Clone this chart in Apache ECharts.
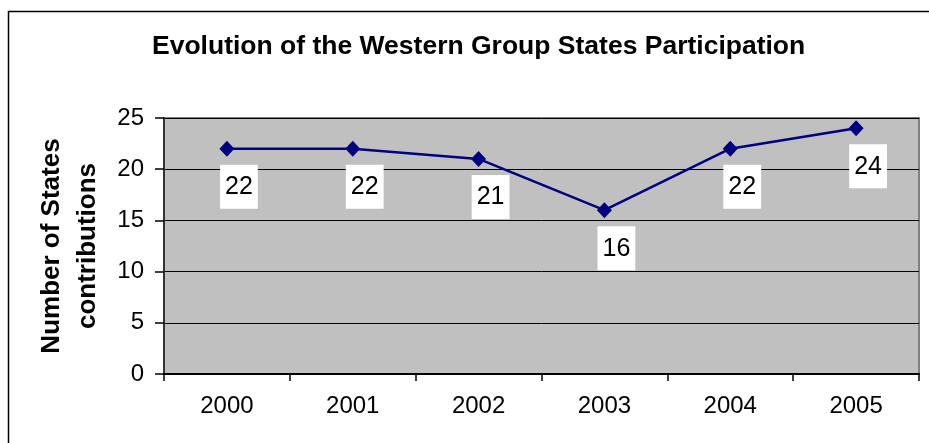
<!DOCTYPE html>
<html>
<head>
<meta charset="utf-8">
<script src="https://cdn.jsdelivr.net/npm/echarts@6/dist/echarts.min.js"></script>
<style>
html,body{margin:0;padding:0;background:#fff;}
#chart{width:929px;height:443px;}
</style>
</head>
<body>
<div id="chart"></div>
<script>
const titleText = "Evolution of the Western Group States Participation";
const yAxisTitle = "Number of States\ncontributions";
const years = ["2000", "2001", "2002", "2003", "2004", "2005"];
const participation = [22, 22, 21, 16, 22, 24];

const chart = echarts.init(document.getElementById('chart'), null, {renderer: 'canvas'});
const font = "'Liberation Sans', Arial, sans-serif";
chart.setOption({
  animation: false,
  backgroundColor: '#ffffff',
  title: {
    text: titleText,
    left: 147,
    top: 28,
    textStyle: {fontFamily: font, fontSize: 26.5, fontWeight: 'bold', color: '#000'}
  },
  graphic: [{
    type: 'rect',
    shape: {x: 8.5, y: 11.5, width: 1000, height: 1000},
    style: {fill: 'none', stroke: '#000', lineWidth: 1.5},
    silent: true
  }],
  grid: {
    left: 164, top: 118, right: 10, bottom: 69,
    show: true, backgroundColor: '#C0C0C0', borderColor: '#808080', borderWidth: 2
  },
  xAxis: {
    type: 'category',
    data: years,
    boundaryGap: true,
    axisLine: {show: true, lineStyle: {color: '#000', width: 2}},
    axisTick: {show: true, length: 7, inside: false, alignWithLabel: false, lineStyle: {color: '#000', width: 1.5}},
    axisLabel: {fontFamily: font, fontSize: 24, color: '#000', margin: 20}
  },
  yAxis: {
    type: 'value',
    min: 0, max: 25, interval: 5,
    name: yAxisTitle,
    nameLocation: 'middle',
    nameRotate: 90,
    nameGap: 58,
    nameTextStyle: {fontFamily: font, fontSize: 26, fontWeight: 'bold', color: '#000', lineHeight: 36},
    axisLine: {show: true, lineStyle: {color: '#333', width: 2}},
    axisTick: {show: true, length: 9, inside: false, lineStyle: {color: '#000', width: 1.5}},
    axisLabel: {fontFamily: font, fontSize: 24, color: '#000', margin: 20},
    splitLine: {show: true, lineStyle: {color: '#000', width: 1}}
  },
  series: [{
    type: 'line',
    data: participation,
    symbol: 'diamond',
    symbolSize: [15, 16],
    itemStyle: {color: '#000080'},
    lineStyle: {color: '#000080', width: 2.5},
    label: {
      show: true,
      position: 'bottom',
      distance: 8,
      offset: [12, 0],
      fontFamily: font,
      fontSize: 25,
      lineHeight: 25,
      color: '#000',
      backgroundColor: '#ffffff',
      padding: [10, 5, 9, 5]
    }
  }]
});
</script>
</body>
</html>
